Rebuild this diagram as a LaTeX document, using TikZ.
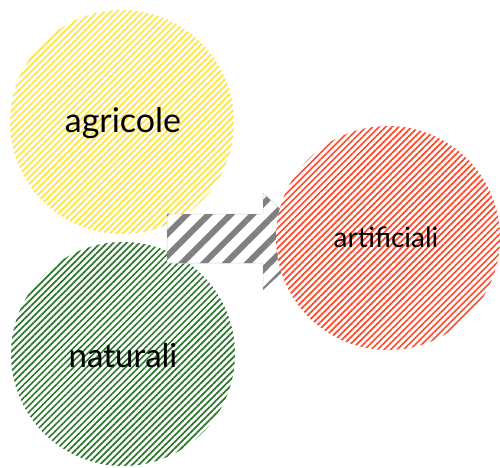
\documentclass[tikz,border=0pt]{standalone}
\usepackage{fontspec}
\setmainfont{Lato}
\usetikzlibrary{patterns.meta}
\definecolor{cyellow}{RGB}{255,228,60}
\definecolor{cgreen}{RGB}{46,120,46}
\definecolor{cred}{RGB}{255,74,42}
\definecolor{cgray}{RGB}{128,128,128}
\tikzset{
  hatchcircle/.style={circle, minimum size=224pt, inner sep=0pt,
    fill=white, pattern={Lines[angle=45,distance=4.6pt,line width=1.7pt]}},
  arrowhatch/.style={fill=white, draw=cgray!35, line width=0.5pt},
  label/.style={text=black, inner sep=0pt}
}
\begin{document}
\begin{tikzpicture}[x=1pt,y=-1pt]
\useasboundingbox (0,0) rectangle (500,467);
% yellow circle
\node[hatchcircle, pattern color=cyellow] (agr) at (122,122) {};
% green circle
\node[hatchcircle, pattern color=cgreen] (nat) at (123,354) {};
% arrow
\coordinate (s1) at (167,214);
\coordinate (s2) at (263,214);
\coordinate (h1) at (263,193);
\coordinate (tip) at (315,241);
\coordinate (h2) at (263,290);
\coordinate (s3) at (263,263);
\coordinate (s4) at (167,263);
\draw[arrowhatch] (s1) -- (s2) -- (h1) -- (tip) -- (h2) -- (s3) -- (s4) -- cycle;
\fill[pattern={Lines[angle=45,distance=15.5pt,line width=6pt]}, pattern color=cgray]
  (s1) -- (s2) -- (h1) -- (tip) -- (h2) -- (s3) -- (s4) -- cycle;
% red circle
\fill[white] (388,238) circle (112);
\node[hatchcircle, pattern color=cred] (art) at (388,238) {};
% labels
\node[label, font=\fontsize{34}{34}\selectfont, anchor=base] (tagr) at (123,132) {agricole};
\node[label, font=\fontsize{33}{33}\selectfont, anchor=base] (tnat) at (123,367) {naturali};
\node[label, font=\fontsize{28}{28}\selectfont, anchor=base] (tart) at (386,247) {artificiali};
\end{tikzpicture}
\end{document}
